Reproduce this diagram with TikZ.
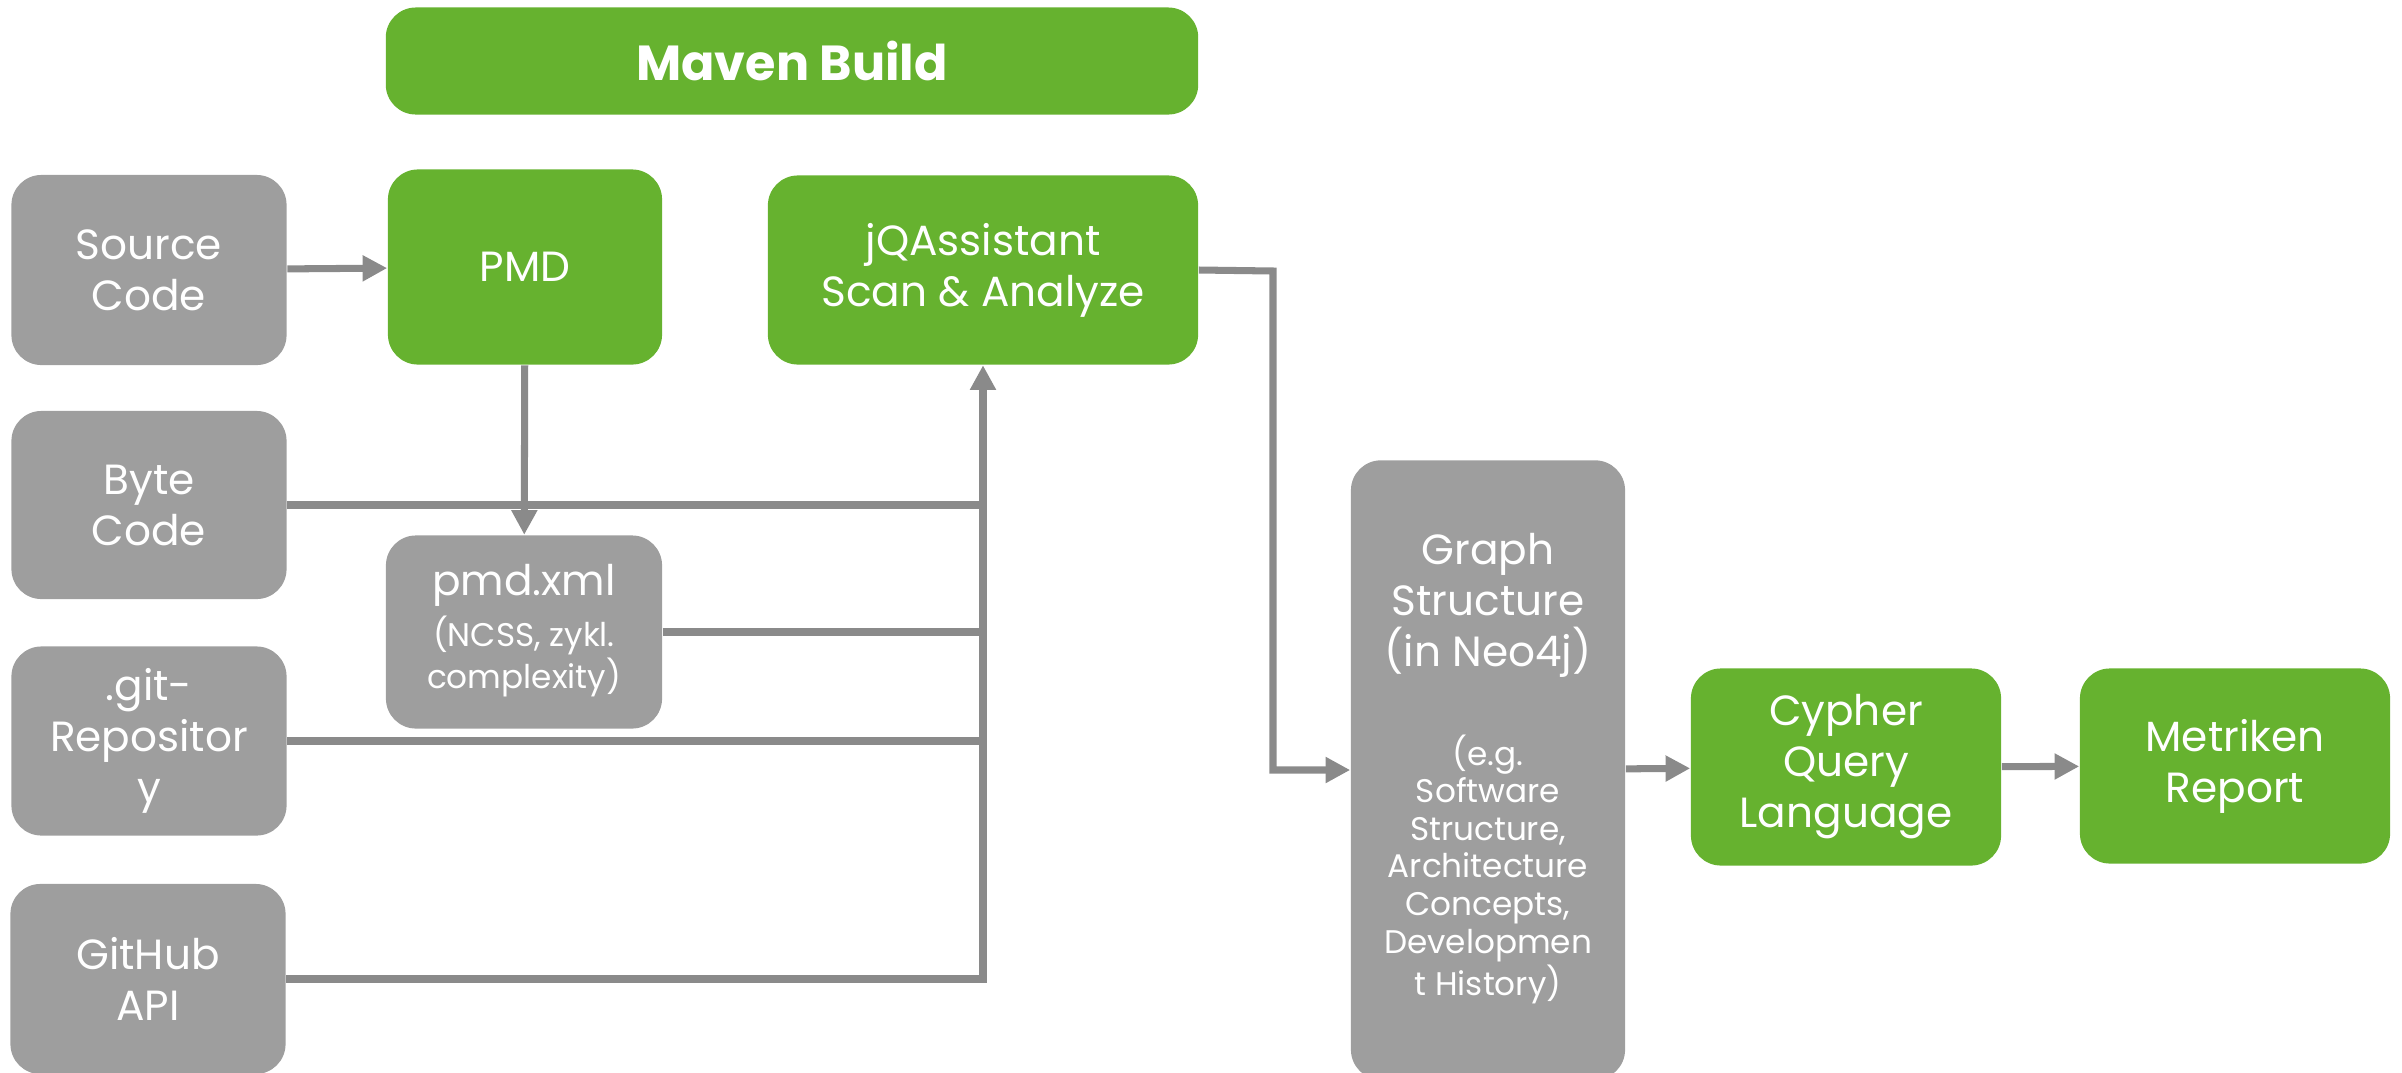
\documentclass[tikz,border=0pt]{standalone}
\usepackage{fontspec}
\setmainfont{Poppins}
\usetikzlibrary{arrows.meta}
\definecolor{boxgreen}{HTML}{66B22F}
\definecolor{boxgray}{HTML}{9E9E9E}
\definecolor{linegray}{HTML}{8A8A8A}
\newcommand{\smalllines}[1]{{\fontsize{9.3}{10.7}\selectfont\begin{tabular}[t]{@{}c@{}}#1\end{tabular}}}
\begin{document}
\begin{tikzpicture}[x=0.01cm,y=-0.01cm,
    box/.style={rounded corners=0.3cm, text=white, align=center, inner sep=0pt,
        font=\fontsize{12}{14.5}\selectfont},
    tool/.style={box, fill=boxgreen},
    data/.style={box, fill=boxgray},
    conn/.style={linegray, line width=2pt},
    arr/.style={conn, -{Triangle[length=7pt,width=7pt]}}]

    \clip (0,0) rectangle (2402,1072);

    % top bar
    \node[tool, minimum width=8.12cm, minimum height=1.07cm, font=\fontsize{14}{16}\selectfont\bfseries] (maven) at (792,61) {Maven Build};

    % inputs
    \node[data, minimum width=2.75cm, minimum height=1.9cm] (src) at (149,270) {Source\\Code};
    \node[data, minimum width=2.75cm, minimum height=1.88cm] (byte) at (149,505) {Byte\\Code};
    \node[data, minimum width=2.75cm, minimum height=1.89cm] (git) at (149,741) {.git-\\Repositor\\y};
    \node[data, minimum width=2.75cm, minimum height=1.9cm] (github) at (148,979) {GitHub\\API};

    % tools
    \node[tool, minimum width=2.74cm, minimum height=1.95cm] (pmd) at (525,267) {PMD};
    \node[tool, minimum width=4.3cm, minimum height=1.89cm] (jqa) at (983,270) {jQAssistant\\Scan \& Analyze};
    \node[data, minimum width=2.76cm, minimum height=1.93cm] (pmdxml) at (524,632) {pmd.xml\\\smalllines{(NCSS, zykl.\\complexity)}};

    % graph and output
    \node[data, minimum width=2.74cm, minimum height=6.19cm] (graph) at (1488,770) {Graph\\Structure\\(in Neo4j)\\[13.4pt]\smalllines{(e.g.\\Software\\Structure,\\Architecture\\Concepts,\\Developmen\\t History)}};
    \node[tool, minimum width=3.1cm, minimum height=1.97cm] (cypher) at (1846,767) {Cypher\\Query\\Language};
    \node[tool, minimum width=3.1cm, minimum height=1.95cm] (metriken) at (2235,766) {Metriken\\Report};

    \coordinate (bend) at (1273,271);

    \draw[arr] (src) -- (pmd);
    \draw[arr] (pmd) -- (pmdxml);
    \draw[arr] (github.east) -| (jqa.south);
    \draw[conn] (byte.east) -- (byte.east -| jqa.south);
    \draw[conn] (pmdxml.east) -- (pmdxml.east -| jqa.south);
    \draw[conn] (git.east) -- (git.east -| jqa.south);
    \draw[arr] (jqa.east) -- (bend) |- (graph.west);
    \draw[arr] (graph) -- (cypher);
    \draw[arr] (cypher) -- (metriken);
\end{tikzpicture}
\end{document}
